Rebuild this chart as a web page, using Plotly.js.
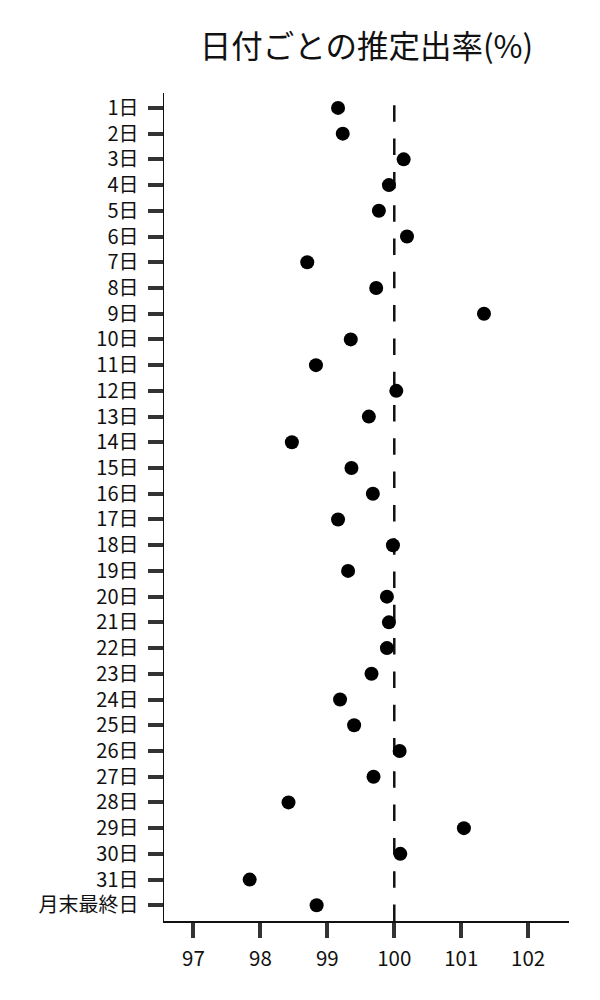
<!DOCTYPE html>
<html>
<head>
<meta charset="utf-8">
<script src="https://cdn.plot.ly/plotly-3.0.1.min.js"></script>
<style>
  body { margin: 0; background: #fff; }
  #chart { width: 600px; height: 1000px; }
</style>
</head>
<body>
<div id="chart"></div>
<script>
// day labels (top to bottom)
const days = [
  "1日", "2日", "3日", "4日", "5日", "6日", "7日", "8日", "9日", "10日",
  "11日", "12日", "13日", "14日", "15日", "16日", "17日", "18日", "19日", "20日",
  "21日", "22日", "23日", "24日", "25日", "26日", "27日", "28日", "29日", "30日",
  "31日", "月末最終日"
];

// estimated rate (%) per day
const rates = [
  99.16, 99.23, 100.14, 99.92, 99.77, 100.19, 98.70, 99.73, 101.34, 99.35,
  98.83, 100.03, 99.62, 98.47, 99.36, 99.68, 99.16, 99.98, 99.31, 99.89,
  99.92, 99.89, 99.66, 99.19, 99.40, 100.08, 99.69, 98.42, 101.04, 100.09,
  97.84, 98.84
];

const xTicks = [97, 98, 99, 100, 101, 102];
const refValue = 100;

const font = "'Noto Sans CJK JP', 'Noto Sans', sans-serif";

const trace = {
  type: "scatter",
  mode: "markers",
  x: rates,
  y: days,
  marker: { color: "#000", size: 14 },
  hoverinfo: "x+y",
  showlegend: false
};

const layout = {
  width: 600,
  height: 1000,
  margin: { l: 164, r: 31, t: 93, b: 79 },
  paper_bgcolor: "#fff",
  plot_bgcolor: "#fff",
  font: { family: font, size: 20, color: "#111" },
  title: {
    text: "日付ごとの推定出率(%)",
    font: { family: font, size: 31.5, color: "#111" },
    x: 0.5, xref: "paper", xanchor: "center",
    y: 43, yref: "container", yanchor: "middle"
  },
  xaxis: {
    range: [96.56, 102.61],
    tickvals: xTicks,
    ticktext: xTicks.map(String),
    showgrid: false, zeroline: false,
    showline: true, linecolor: "#111", linewidth: 1.5,
    ticks: "outside", ticklen: 15, tickwidth: 4, tickcolor: "#333",
    ticklabelstandoff: 4,
    tickfont: { family: font, size: 20.5, color: "#111" }
  },
  yaxis: {
    type: "category",
    categoryorder: "array",
    categoryarray: days,
    range: [31.61, -0.58],
    showgrid: false, zeroline: false,
    showline: true, linecolor: "#111", linewidth: 1.5,
    ticks: "outside", ticklen: 15, tickwidth: 4, tickcolor: "#333",
    ticklabelstandoff: 5,
    tickfont: { family: font, size: 20, color: "#111" }
  },
  shapes: [
    {
      type: "line",
      xref: "x", yref: "paper",
      x0: refValue, x1: refValue,
      y0: 0, y1: 0.986,
      line: { color: "#111", width: 2.5, dash: "16.5px,16.8px" },
      layer: "below"
    }
  ]
};

Plotly.newPlot("chart", [trace], layout, { displayModeBar: false, staticPlot: true });
</script>
</body>
</html>
